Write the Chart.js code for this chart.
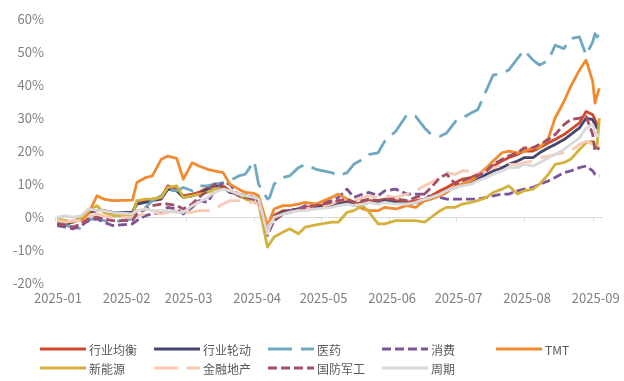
<!DOCTYPE html>
<html><head><meta charset="utf-8">
<script src="https://cdn.jsdelivr.net/npm/chart.js@4.4.1/dist/chart.umd.min.js"></script>
<style>
html,body{margin:0;padding:0;background:#fff;}
#wrap{position:relative;width:624px;height:381px;overflow:hidden;}
#c{position:absolute;left:0;top:0;}
#legend{position:absolute;left:0;top:0;width:624px;height:381px;font-family:"Noto Sans CJK SC","Noto Sans",sans-serif;font-size:12px;color:#595959;}
.item{position:absolute;display:flex;align-items:center;height:16px;white-space:nowrap;}
.item svg{margin-right:3px;display:block;}
</style></head>
<body><div id="wrap"><canvas id="c" width="624" height="318"></canvas><div id="legend"></div></div>
<script>
// ---- data (cumulative return, %) ----
const dates = ['2025-01-02','2025-01-06','2025-01-09','2025-01-13','2025-01-16','2025-01-20','2025-01-23','2025-01-27',
'2025-02-05','2025-02-07','2025-02-11','2025-02-14','2025-02-18','2025-02-21','2025-02-25','2025-02-28',
'2025-03-04','2025-03-07','2025-03-11','2025-03-14','2025-03-18','2025-03-21','2025-03-25','2025-03-28',
'2025-04-01','2025-04-03','2025-04-07','2025-04-08','2025-04-10','2025-04-14','2025-04-17','2025-04-21','2025-04-24','2025-04-29',
'2025-05-06','2025-05-09','2025-05-13','2025-05-16','2025-05-20','2025-05-23','2025-05-27','2025-05-30',
'2025-06-04','2025-06-09','2025-06-13','2025-06-17','2025-06-20','2025-06-24','2025-06-27',
'2025-07-01','2025-07-04','2025-07-08','2025-07-11','2025-07-15','2025-07-18','2025-07-22','2025-07-25','2025-07-29',
'2025-08-01','2025-08-05','2025-08-08','2025-08-12','2025-08-15','2025-08-19','2025-08-22','2025-08-26','2025-08-29',
'2025-09-01','2025-09-02','2025-09-03','2025-09-04'];

const balanced = [-1.5,-2,-1.5,0,1.5,2,2,1.5, 1.5,4.5,5,5.5,6,9.5,8.5,6.5, 7,7.5,9,10,9.5,8,7,6.5,
 6,5.5,-4.5,-2.5,0.5,2,2,2.5,3,3.5, 4,4.5,5,4,4.5,5,5,5.5, 5,4.5,5,5.5,6.5,8,9,
 10.5,11.5,12,13,14.5,15.5,17,18,19, 20,20,21,22.5,23.5,25,26.5,28.5,32, 31,29.5,28,28.5];
const rotation = [-2,-2,-1.5,0,1.5,2,2,1.5, 1.5,4,4.5,5,5.5,8.5,8,6, 6.5,7,8.5,9.5,9,7.5,7,6.5,
 6,5.5,-4,-2.5,0,1.5,2,2.5,2.5,3, 3.5,4,4.5,3.5,4,4.5,4.5,5, 4.5,4,4.5,5,6,7,8,
 9,10,10.5,11.5,13,14,15,16,17, 18,18,19.5,21,22,23.5,25,27,30, 29.5,28,27,27.5];
const pharma = [-2,-2.5,-3,-3.5,-1,0,-1,-1.5, -0.5,2,3,5,6.5,8.5,8,9, 8,9.5,9.5,10,10.5,11,12.5,13,
 17,10,5.5,6,10,12,12.5,15,16,14.5, 13.5,12.5,13.5,16,17.5,19,19.5,23, 26,31,30.5,27,25,24.5,25.5,
 29,30,31.5,32.5,38.5,43,43.5,44.5,48, 50.5,47.5,46,47.5,52,51,54,54.5,49, 53,55.5,54.5,55.5];
const consumer = [-2.5,-3,-3.5,-2.5,-1,-0.5,-1.5,-2.5, -2,-1,0.5,1,1.5,3,2.5,1, 3,5,4.5,8,10.5,10,6.5,5.5,
 5,4.5,-5.5,-4,-1,1,2,2.5,3.5,4, 5,6,8.5,6,7,7.5,6.5,8, 8.5,7,7,7,6,6,5.5,
 5.5,5.5,5.5,5.5,6,6.5,7,7,8, 8.5,9,10,11,12,13.5,14,15,15.5, 14,13,12.5,12.5];
const tmt = [-1,-1.5,-1.2,-1,1,6.5,5.5,5, 5.2,10.5,12,12.5,17.5,18.5,17.8,11.5, 16.5,15.5,14.5,14,13.5,10,8.5,7.5,
 7.2,6.5,-2.5,-1,2.5,3.5,3.5,4,4.5,4, 6,7,5.5,4.5,2.5,2,2,3, 2.5,3.5,3,5,5.5,6.5,7.5,
 9.5,10,11,12.5,15,17,19.5,20,19.5, 20,21,21,24,30,35,39.5,44.5,47.5, 41,34.5,37,39];
const newEnergy = [-0.5,-1,-1.5,0,2,3.5,1.5,0.5, 0.5,5,5.5,5.5,6,9,9.5,6, 6.5,7,7.5,8.5,9,8,7,5.5,
 4.5,4,-9,-8,-6,-4.5,-3.5,-5,-3,-2.3, -1.5,-1.5,1.5,2,3.5,1.5,-2,-2, -1,-1,-1,-1.5,0,2,3,
 3,4,4.5,5,6,7.5,8.5,9.5,7, 8,8.5,10,13,16,16.5,17.5,20.5,22.5, 23,21.5,22,30];
const finance = [-1,-1.5,-1,-1,0,1,0.5,0, 0,0.5,1,1.5,1,1.5,2,1.5, 1.5,2,2,2.5,4,5,5,4.5,
 4.5,4,-3.5,-2,-0.5,1,1.5,2,2.5,3, 4,5,5.5,5,6,6.5,6,6.5, 6,7,8,9.5,10.5,12,13.5,
 13,14,14,13,14,15,15.5,16,16, 16.5,17,18,18.5,19,19.5,20,22,23, 22,20,21,21.5];
const defense = [-2,-2.5,-3,-2,-0.5,0,-0.5,-1, -1,1,2.5,3.5,4,4,3.5,2.5, 4,6,8,10,9,8,6.5,6,
 5.5,5,-5,-3,-1,1,1.5,2,3,3.5, 4.5,5,5.5,4.5,5,5.5,5,5.5, 5.5,5,6,7,9,12,13,
 10,11,12,12.5,14,16,17.5,18.5,19.5, 21,21,22,23.5,25,28,29.5,30,30.5, 25,20,21,20.5];
const cyclical = [0,0.5,0,0.5,2.5,2,2,1.5, 1,2,2.5,2,2,2,1.5,1.5, 3.5,4.5,6,7.5,8.5,8,7,6.5,
 6,5.5,-5,-3,0,1,1.5,2,2,2.5, 3,3.5,4,3.5,4,4.5,4,4.5, 4,4,4.5,5.5,6,7,8,
 9,9.5,10,11,12,13,14,15,15, 16,15.5,16.5,18,19,20.5,22,24,27, 28,26,24.5,25];

const seriesNames = ['行业均衡','行业轮动','医药','消费','TMT','新能源','金融地产','国防军工','周期'];
const xTickLabels = ['2025-01','2025-02','2025-03','2025-04','2025-05','2025-06','2025-07','2025-08','2025-09'];
const yTicks = [-20,-10,0,10,20,30,40,50,60];

// ---- styles ----
const seriesValues = [balanced,rotation,pharma,consumer,tmt,newEnergy,finance,defense,cyclical];
const colors = ['#d2492a','#46466f','#6ea8c1','#7d5497','#f28a30','#d4b13d','#f9c9b4','#a34e63','#d9d9d9'];
const dashes = [[],[],[24,9],[9,4],[],[],[24,9],[9,4],[]];

const base = Date.UTC(2025,0,1);
function dayOf(s){const p=s.split('-').map(Number);return (Date.UTC(p[0],p[1]-1,p[2]||1)-base)/864e5;}
const xs = dates.map(dayOf);
const monthStarts = xTickLabels.map(dayOf);

const datasets = seriesNames.map((n,i)=>({
  label:n,
  data: seriesValues[i].map((v,j)=>({x:xs[j],y:v})),
  borderColor: colors[i], backgroundColor: colors[i],
  borderWidth: 2.8, borderDash: dashes[i], pointRadius:0, tension:0,
  borderCapStyle:'butt', borderJoinStyle:'round',
  order: seriesNames.length-1-i
}));

const zeroTicks = {
  id:'zeroTicks',
  beforeDatasetsDraw(chart){
    const {ctx, scales:{x,y}} = chart;
    const y0 = y.getPixelForValue(0);
    ctx.save(); ctx.strokeStyle='#d9d9d9'; ctx.lineWidth=1;
    x.ticks.forEach(t=>{const px=Math.round(x.getPixelForValue(t.value))+0.5;
      ctx.beginPath(); ctx.moveTo(px,y0); ctx.lineTo(px,y0+4); ctx.stroke();});
    ctx.restore();
  }
};

const FONT = '"Noto Sans CJK SC","Noto Sans",sans-serif';
new Chart(document.getElementById('c'),{
  type:'line',
  data:{datasets},
  plugins:[zeroTicks],
  options:{
    responsive:false, animation:false,
    layout:{padding:{left:0,right:19,top:13,bottom:5}},
    plugins:{legend:{display:false},tooltip:{enabled:false}},
    scales:{
      x:{type:'linear',min:0,max:247.5,
        afterBuildTicks(s){s.ticks=monthStarts.map(v=>({value:v}));},
        grid:{display:false,drawTicks:false},border:{display:false},
        ticks:{autoSkip:false,maxRotation:0,padding:7,labelOffset:3,color:'#808080',font:{family:FONT,size:13},
          callback:(v)=>{const k=monthStarts.indexOf(v);return k>=0?xTickLabels[k]:'';}}
      },
      y:{min:-20,max:60,
        afterBuildTicks(s){s.ticks=yTicks.map(v=>({value:v}));},
        afterFit(s){s.width=55;},
        grid:{drawTicks:false,lineWidth:1,color:(c)=>c.tick&&c.tick.value===0?'#d9d9d9':'rgba(0,0,0,0)'},
        border:{display:false},
        ticks:{padding:11,color:'#808080',font:{family:FONT,size:13},callback:v=>v+'%'}
      }
    }
  }
});

// ---- legend (grid layout) ----
const leg = document.getElementById('legend');
seriesNames.forEach((n,i)=>{
  const col=i%5,row=Math.floor(i/5);
  const d=document.createElement('div'); d.className='item';
  d.style.left=(40+114*col)+'px'; d.style.top=(341+19*row)+'px';
  const da = dashes[i].length?` stroke-dasharray="${dashes[i].join(' ')}"`:'';
  d.innerHTML=`<svg width="46" height="16"><line x1="0" y1="8" x2="46" y2="8" stroke="${colors[i]}" stroke-width="3"${da}/></svg><span>${n}</span>`;
  leg.appendChild(d);
});
</script></body></html>
